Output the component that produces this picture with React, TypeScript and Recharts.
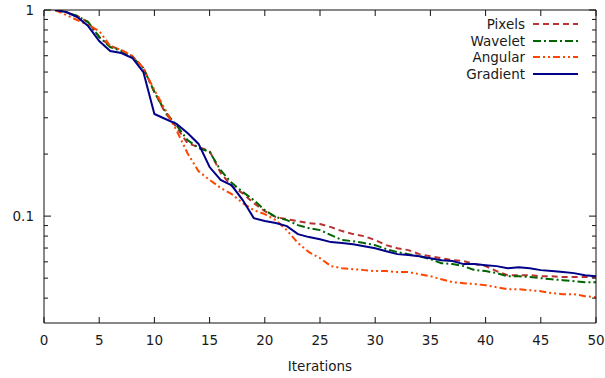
import { LineChart, Line, XAxis, YAxis, Legend } from "recharts";

const iterations = [
  1, 2, 3, 4, 5, 6, 7, 8, 9, 10, 11, 12, 13, 14, 15, 16, 17, 18, 19, 20, 21, 22, 23, 24, 25,
  26, 27, 28, 29, 30, 31, 32, 33, 34, 35, 36, 37, 38, 39, 40, 41, 42, 43, 44, 45, 46, 47, 48, 49, 50,
];

const pixels = [
  1.0, 0.978, 0.935, 0.874, 0.74, 0.669, 0.639, 0.598, 0.523, 0.4, 0.316, 0.27, 0.226, 0.216, 0.207,
  0.162, 0.14, 0.129, 0.1156, 0.1057, 0.0989, 0.0967, 0.0946, 0.0925, 0.0915, 0.0884, 0.0846, 0.0818,
  0.0799, 0.0765, 0.0723, 0.0699, 0.0684, 0.0654, 0.0639, 0.0625, 0.0611, 0.0605, 0.0585, 0.0572,
  0.0541, 0.0517, 0.0517, 0.0517, 0.0511, 0.0511, 0.0506, 0.0506, 0.0506, 0.0506,
];

const wavelet = [
  1.0, 0.978, 0.935, 0.874, 0.74, 0.661, 0.632, 0.591, 0.523, 0.4, 0.32, 0.276, 0.234, 0.214, 0.205,
  0.167, 0.145, 0.131, 0.1196, 0.1069, 0.0989, 0.0956, 0.0904, 0.0874, 0.0855, 0.0809, 0.0765, 0.0756,
  0.074, 0.0723, 0.0692, 0.0669, 0.0654, 0.0639, 0.0618, 0.0591, 0.0585, 0.0572, 0.0547, 0.0541,
  0.0529, 0.0511, 0.0511, 0.0506, 0.05, 0.0494, 0.0489, 0.0483, 0.0478, 0.0478,
];

const angular = [
  1.0, 0.946, 0.894, 0.846, 0.791, 0.669, 0.639, 0.598, 0.523, 0.409, 0.327, 0.261, 0.202, 0.165, 0.15,
  0.137, 0.128, 0.1156, 0.1069, 0.1022, 0.0956, 0.0855, 0.074, 0.0669, 0.0625, 0.0572, 0.0559, 0.0553,
  0.0547, 0.0541, 0.0541, 0.0535, 0.0535, 0.0523, 0.0511, 0.0494, 0.0478, 0.0473, 0.0468, 0.0462,
  0.0452, 0.0442, 0.0442, 0.0437, 0.0432, 0.0423, 0.0418, 0.0418, 0.0409, 0.0404,
];

const gradient = [
  1.0, 0.978, 0.925, 0.836, 0.707, 0.632, 0.618, 0.585, 0.5, 0.313, 0.296, 0.28, 0.253, 0.224, 0.173,
  0.15, 0.141, 0.1196, 0.0978, 0.0946, 0.0925, 0.0894, 0.0818, 0.0791, 0.0773, 0.0748, 0.074, 0.0731,
  0.0715, 0.0699, 0.0676, 0.0654, 0.0647, 0.0639, 0.0625, 0.0611, 0.0605, 0.0585, 0.0585, 0.0578,
  0.0572, 0.0559, 0.0565, 0.0559, 0.0547, 0.0541, 0.0535, 0.0529, 0.0517, 0.0511,
];

const xTicks = [0, 5, 10, 15, 20, 25, 30, 35, 40, 45, 50];
const yTicks = [0.04, 0.05, 0.06, 0.07, 0.08, 0.09, 0.1, 0.2, 0.3, 0.4, 0.5, 0.6, 0.7, 0.8, 0.9, 1];
const yLabels: Record<string, string> = { "1": "1", "0.1": "0.1" };

const series = [
  { key: "pixels", name: "Pixels", color: "#b8322f", dash: "6 4" },
  { key: "wavelet", name: "Wavelet", color: "#006400", dash: "8 3 2 3" },
  { key: "angular", name: "Angular", color: "#ff4500", dash: "7 3 2 3 2 3" },
  { key: "gradient", name: "Gradient", color: "#000088", dash: undefined },
];

const data = iterations.map((it, i) => ({
  it,
  pixels: pixels[i],
  wavelet: wavelet[i],
  angular: angular[i],
  gradient: gradient[i],
}));

const FONT = "'DejaVu Sans', sans-serif";
const FS = 13.5;
const AXIS = "#111";

const BottomTick = (props: any) => {
  const { x, y, payload } = props;
  return (
    <g>
      <line x1={x} x2={x} y1={y} y2={y - 6} stroke={AXIS} />
      <text x={x} y={y + 22} textAnchor="middle" fontSize={FS} fontFamily={FONT} fill="#1a1a1a">
        {payload.value}
      </text>
    </g>
  );
};

const TopTick = (props: any) => {
  const { x, y } = props;
  return <line x1={x} x2={x} y1={y} y2={y + 6} stroke={AXIS} />;
};

const isMajor = (v: number) => Math.abs(v - 1) < 1e-9 || Math.abs(v - 0.1) < 1e-9;

const LeftTick = (props: any) => {
  const { x, y, payload } = props;
  const major = isMajor(payload.value);
  const label = yLabels[String(payload.value)];
  return (
    <g>
      <line x1={x} x2={x + (major ? 7 : 4)} y1={y} y2={y} stroke={AXIS} />
      {label && (
        <text x={x - 10} y={y + 5} textAnchor="end" fontSize={FS} fontFamily={FONT} fill="#1a1a1a">
          {label}
        </text>
      )}
    </g>
  );
};

const RightTick = (props: any) => {
  const { x, y, payload } = props;
  const major = isMajor(payload.value);
  return <line x1={x} x2={x - (major ? 7 : 4)} y1={y} y2={y} stroke={AXIS} />;
};

const LegendContent = () => (
  <div style={{ display: "flex", flexDirection: "column", alignItems: "flex-end", fontFamily: FONT }}>
    {series.map((s) => (
      <div key={s.key} style={{ display: "flex", alignItems: "center", height: 16.5 }}>
        <span style={{ fontSize: FS, color: "#1a1a1a", marginRight: 8 }}>{s.name}</span>
        <svg width={45} height={6}>
          <line x1={0} x2={45} y1={3} y2={3} stroke={s.color} strokeWidth={2} strokeDasharray={s.dash} />
        </svg>
      </div>
    ))}
  </div>
);

export default function App() {
  return (
    <div style={{ position: "fixed", left: 0, top: 0, background: "#fff" }}>
      <LineChart width={605} height={378} data={data} margin={{ top: -10, right: -11, left: 0, bottom: 0 }}>
        <XAxis
          dataKey="it"
          type="number"
          domain={[0, 50]}
          ticks={xTicks}
          interval={0}
          height={55}
          tickSize={0}
          tickMargin={0}
          tick={<BottomTick />}
          axisLine={{ stroke: AXIS }}
          label={{ value: "Iterations", position: "insideBottom", offset: 7, fontSize: FS, fontFamily: FONT, fill: "#1a1a1a" }}
        />
        <XAxis
          xAxisId="top"
          orientation="top"
          dataKey="it"
          type="number"
          domain={[0, 50]}
          ticks={xTicks}
          interval={0}
          height={20}
          tickSize={0}
          tickMargin={0}
          tick={<TopTick />}
          axisLine={{ stroke: AXIS }}
        />
        <YAxis
          scale="log"
          type="number"
          domain={[0.0303, 1]}
          allowDataOverflow
          ticks={yTicks}
          interval={0}
          width={44}
          tickSize={0}
          tickMargin={0}
          tick={<LeftTick />}
          axisLine={{ stroke: AXIS }}
        />
        <YAxis
          yAxisId="right"
          orientation="right"
          scale="log"
          type="number"
          domain={[0.0303, 1]}
          allowDataOverflow
          ticks={yTicks}
          interval={0}
          width={20}
          tickSize={0}
          tickMargin={0}
          tick={<RightTick />}
          axisLine={{ stroke: AXIS }}
        />
        <Legend
          layout="horizontal"
          verticalAlign="middle"
          align="center"
          content={<LegendContent />}
          wrapperStyle={{ top: 16, left: 0, width: 578 }}
        />
        {series.map((s) => (
          <Line
            key={s.key}
            dataKey={s.key}
            name={s.name}
            type="linear"
            stroke={s.color}
            strokeWidth={2}
            strokeDasharray={s.dash}
            dot={false}
            isAnimationActive={false}
          />
        ))}
      </LineChart>
    </div>
  );
}
